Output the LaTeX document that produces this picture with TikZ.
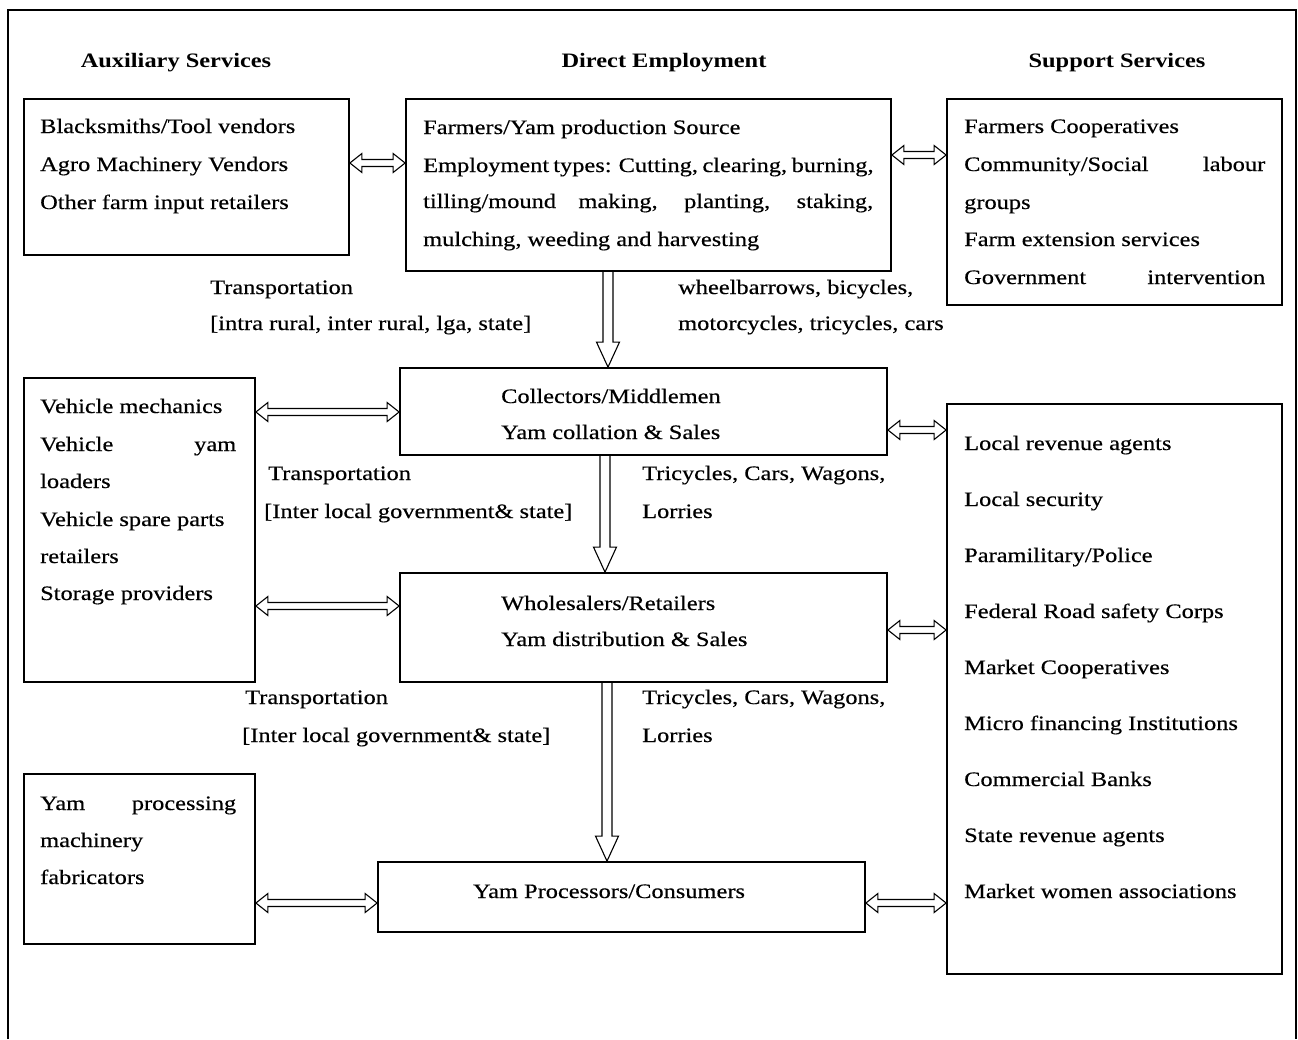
\documentclass[tikz,border=0pt]{standalone}
\usepackage{fontspec}
\setmainfont{Liberation Serif}[FakeStretch=1.19, UprightFeatures={FakeBold=0.4}]
\usetikzlibrary{calc}
\begin{document}
\begin{tikzpicture}[x=1pt,y=-1pt,
  box/.style={draw, line width=1.8pt, inner sep=0pt, rectangle},
  txt/.style={anchor=base west, inner sep=0pt, font=\fontsize{20.5}{24}\selectfont},
  hdr/.style={anchor=base, inner sep=0pt, font=\fontsize{20.5}{24}\selectfont\bfseries},
  harrow/.style={line width=1.1pt, line join=miter, to path={let \p1=(\tikztostart), \p2=(\tikztotarget) in
    (\x1,\y1) -- (\x1+12pt,\y1+9.5pt) -- (\x1+12pt,\y1+3.5pt) -- (\x2-12pt,\y1+3.5pt) -- (\x2-12pt,\y1+9.5pt) -- (\x2,\y1)
    -- (\x2-12pt,\y1-9.5pt) -- (\x2-12pt,\y1-3.5pt) -- (\x1+12pt,\y1-3.5pt) -- (\x1+12pt,\y1-9.5pt) -- cycle}},
  varrow/.style={line width=1.1pt, line join=miter, to path={let \p1=(\tikztostart), \p2=(\tikztotarget) in
    (\x1-5pt,\y1) -- (\x1-5pt,\y2+25pt) -- (\x1-11.5pt,\y2+25pt) -- (\x1,\y2) -- (\x1+11.5pt,\y2+25pt) -- (\x1+5pt,\y2+25pt) -- (\x1+5pt,\y1)}},
]
\useasboundingbox (0,0) rectangle (1298,1039);
% outer frame
\draw[line width=1.8pt] (8,1039) -- (8,10) -- (1296,10) -- (1296,1039);

% headings
\node[hdr] (h1) at (176,67) {Auxiliary Services};
\node[hdr] (h2) at (664,67) {Direct Employment};
\node[hdr] (h3) at (1117,67) {Support Services};

% boxes
\node[box, minimum width=325, minimum height=156] (aux1) at (186.5,177) {};
\node[box, minimum width=485, minimum height=172] (dir1) at (648.5,185) {};
\node[box, minimum width=335, minimum height=206] (sup1) at (1114.5,202) {};
\node[box, minimum width=487, minimum height=87] (coll) at (643.5,411.5) {};
\node[box, minimum width=231, minimum height=304] (aux2) at (139.5,530) {};
\node[box, minimum width=335, minimum height=570] (sup2) at (1114.5,689) {};
\node[box, minimum width=487, minimum height=109] (whol) at (643.5,627.5) {};
\node[box, minimum width=487, minimum height=70] (proc) at (621.5,897) {};
\node[box, minimum width=231, minimum height=170] (aux3) at (139.5,859) {};

% aux1 text
\node[txt] (a11) at (40,133) {Blacksmiths/Tool vendors};
\node[txt] (a12) at (40,171) {Agro Machinery Vendors};
\node[txt] (a13) at (40,209) {Other farm input retailers};

% dir1 text
\node[txt] (d11) at (423,134) {Farmers/Yam production Source};
\node[txt] (d12) at (423,172) {\makebox[450pt][s]{Employment types: Cutting, clearing, burning,}};
\node[txt] (d13) at (423,208) {\makebox[450pt][s]{tilling/mound making, planting, staking,}};
\node[txt] (d14) at (423,246) {mulching, weeding and harvesting};

% sup1 text
\node[txt] (s11) at (964,133) {Farmers Cooperatives};
\node[txt] (s12) at (964,171) {\makebox[301pt][s]{Community/Social labour}};
\node[txt] (s13) at (964,209) {groups};
\node[txt] (s14) at (964,246) {Farm extension services};
\node[txt] (s15) at (964,284) {\makebox[301pt][s]{Government intervention}};

% transport labels 1
\node[txt] (l11) at (210,294) {Transportation};
\node[txt] (l12) at (210,330) {[intra rural, inter rural, lga, state]};
\node[txt] (l13) at (678,294) {wheelbarrows, bicycles,};
\node[txt] (l14) at (678,330) {motorcycles, tricycles, cars};

% collectors
\node[txt] (c1) at (501,403) {Collectors/Middlemen};
\node[txt] (c2) at (501,439) {Yam collation \& Sales};

% aux2 text
\node[txt] (a21) at (40,413) {Vehicle mechanics};
\node[txt] (a22) at (40,451) {\makebox[196pt][s]{Vehicle yam}};
\node[txt] (a23) at (40,488) {loaders};
\node[txt] (a24) at (40,526) {Vehicle spare parts};
\node[txt] (a25) at (40,563) {retailers};
\node[txt] (a26) at (40,600) {Storage providers};

% sup2 text
\node[txt] (s21) at (964,450) {Local revenue agents};
\node[txt] (s22) at (964,506) {Local security};
\node[txt] (s23) at (964,562) {Paramilitary/Police};
\node[txt] (s24) at (964,618) {Federal Road safety Corps};
\node[txt] (s25) at (964,674) {Market Cooperatives};
\node[txt] (s26) at (964,730) {Micro financing Institutions};
\node[txt] (s27) at (964,786) {Commercial Banks};
\node[txt] (s28) at (964,842) {State revenue agents};
\node[txt] (s29) at (964,898) {Market women associations};

% transport labels 2
\node[txt] (l21) at (268,480) {Transportation};
\node[txt] (l22) at (264,518) {[Inter local government\& state]};
\node[txt] (l23) at (642,480) {Tricycles, Cars, Wagons,};
\node[txt] (l24) at (642,518) {Lorries};

% wholesalers
\node[txt] (w1) at (501,610) {Wholesalers/Retailers};
\node[txt] (w2) at (501,646) {Yam distribution \& Sales};

% transport labels 3
\node[txt] (l31) at (245,704) {Transportation};
\node[txt] (l32) at (242,742) {[Inter local government\& state]};
\node[txt] (l33) at (642,704) {Tricycles, Cars, Wagons,};
\node[txt] (l34) at (642,742) {Lorries};

% processors
\node[txt, anchor=base] (p1) at (609,898) {Yam Processors/Consumers};

% aux3 text
\node[txt] (a31) at (40,810) {\makebox[196pt][s]{Yam processing}};
\node[txt] (a32) at (40,847) {machinery};
\node[txt] (a33) at (40,884) {fabricators};

% level coordinates
\coordinate (r163) at (0,163);
\coordinate (r155) at (0,155);
\coordinate (r412) at (0,412);
\coordinate (r430) at (0,430);
\coordinate (r606) at (0,606);
\coordinate (r630) at (0,630);
\coordinate (r903) at (0,903);
\coordinate (c608) at (608,0);
\coordinate (c605) at (605,0);
\coordinate (c607) at (607,0);

% connectors
\draw[harrow] (aux1.east |- r163) to (dir1.west |- r163);
\draw[harrow] (dir1.east |- r155) to (sup1.west |- r155);
\draw[harrow] (aux2.east |- r412) to (coll.west |- r412);
\draw[harrow] (coll.east |- r430) to (sup2.west |- r430);
\draw[harrow] (aux2.east |- r606) to (whol.west |- r606);
\draw[harrow] (whol.east |- r630) to (sup2.west |- r630);
\draw[harrow] (aux3.east |- r903) to (proc.west |- r903);
\draw[harrow] (proc.east |- r903) to (sup2.west |- r903);
\draw[varrow] (dir1.south -| c608) to (coll.north -| c608);
\draw[varrow] (coll.south -| c605) to (whol.north -| c605);
\draw[varrow] (whol.south -| c607) to (proc.north -| c607);
\end{tikzpicture}
\end{document}
